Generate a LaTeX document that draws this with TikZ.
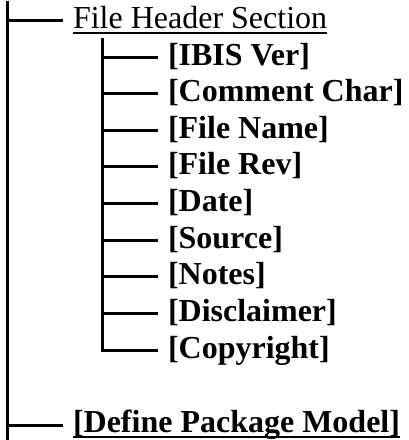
\documentclass[tikz,border=0pt]{standalone}
\usepackage{fontspec}
\setmainfont{Liberation Serif}
\newcommand\myuline[1]{\setbox0\hbox{#1}\rlap{\vrule height -4pt depth 6pt width \wd0}\box0}
\begin{document}
\begin{tikzpicture}[x=1pt,y=-1pt,
  line/.style={line width=3pt},
  lbl/.style={inner sep=0pt, outer xsep=10pt, anchor=base west, font=\fontsize{32}{38}\selectfont},
  item/.style={lbl, font=\fontsize{32}{38}\selectfont\bfseries}]
\useasboundingbox (0,0) rectangle (409,440);
% main trunk
\coordinate (top) at (7.5,1);
\coordinate (bot) at (7.5,442);
\draw[line] (top) -- (bot);
% File Header Section
\coordinate (ja) at (7.5,20.5);
\node[lbl] (hdr) at (63,28) {\myuline{File Header Section}};
\draw[line] (ja) -- (ja -| hdr.west);
% sub trunk
\coordinate (stop) at (102.5,38);
\coordinate (sbot) at (102.5,351.5);
\draw[line] (stop) -- (sbot);
\foreach \t [count=\i from 0] in {{[IBIS Ver]},{[Comment Char]},{[File Name]},{[File Rev]},{[Date]},{[Source]},{[Notes]},{[Disclaimer]},{[Copyright]}}{
  \coordinate (j\i) at (102.5,57+36.625*\i);
  \node[item] (n\i) at (158,65+36.625*\i) {\t};
  \draw[line] (j\i) -- (j\i -| n\i.west);
}
% Define Package Model
\coordinate (jb) at (7.5,425.5);
\node[item] (def) at (63,432) {\myuline{[Define Package Model]}};
\draw[line] (jb) -- (jb -| def.west);
\end{tikzpicture}
\end{document}
